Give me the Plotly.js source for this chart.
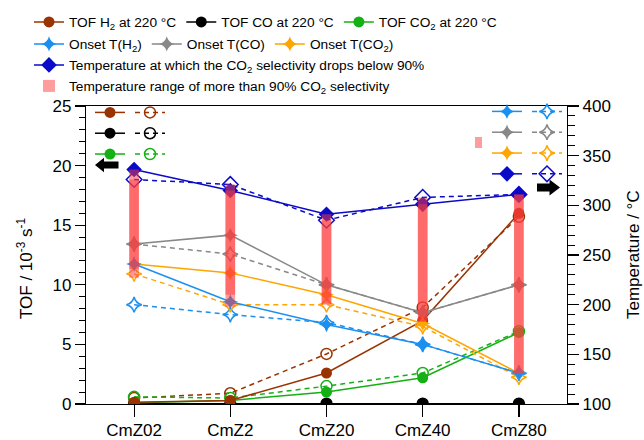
<!DOCTYPE html>
<html>
<head>
<meta charset="utf-8">
<script src="https://cdn.plot.ly/plotly-3.0.1.min.js"></script>
<style>
  html, body { margin: 0; padding: 0; background: #fff; }
  #chart { width: 644px; height: 440px; }
</style>
</head>
<body>
<div id="chart"></div>
<script>
// Catalysts on the shared category axis
const categories = ['CmZ02', 'CmZ2', 'CmZ20', 'CmZ40', 'CmZ80'];

// Turnover frequencies at 220 °C, 10^-3 s^-1 (filled = first run, open = second run)
const tofH2   = [0.15, 0.3, 2.6, 7.0, 16.0];
const tofH2b  = [0.5, 0.9, 4.2, 8.1, 15.7];
const tofCO   = [0.02, 0.02, 0.02, 0.02, 0.02];
const tofCOb  = [0.03, 0.03, 0.03, 0.03, 0.03];
const tofCO2  = [0.1, 0.3, 1.0, 2.2, 6.0];
const tofCO2b = [0.6, 0.5, 1.5, 2.6, 6.1];

// Onset temperatures, °C
const onsetH2   = [241, 203, 180, 160, 131];
const onsetH2b  = [200, 190, 182, 160, 131];
const onsetCO   = [261, 270, 220, 192, 220];
const onsetCOb  = [261, 251, 220, 192, 220];
const onsetCO2  = [241, 232, 210, 181, 131];
const onsetCO2b = [231, 200, 200, 178, 127];

// Temperature at which the CO2 selectivity drops below 90 %, °C
const tDrop  = [336, 315, 291, 301, 311];
const tDropB = [326, 321, 285, 308, 311];

// Lower end of the >90 % CO2 selectivity window, °C
const selLow  = [236, 210, 201, 183, 131];
const selLowB = [227, 198, 200, 183, 131];

// Legend and axis labels
const labelsTOF   = ['TOF H<sub>2</sub> at 220 °C', 'TOF CO at 220 °C', 'TOF CO<sub>2</sub> at 220 °C'];
const labelsOnset = ['Onset T(H<sub>2</sub>)', 'Onset T(CO)', 'Onset T(CO<sub>2</sub>)'];
const labelDrop   = 'Temperature at which the CO<sub>2</sub> selectivity drops below 90%';
const labelRange  = 'Temperature range of more than 90% CO<sub>2</sub> selectivity';
const titleLeft   = 'TOF / 10<sup>-3</sup> s<sup>-1</sup>';
const titleRight  = 'Temperature / °C';

// ---- styling ----
const FONT = 'Liberation Sans, Arial, sans-serif';
const C = {
  h2: '#993300', co: '#000000', co2: '#14b014',
  onH2: '#1b8ff0', onCO: '#888888', onCO2: '#ffa500',
  drop: '#0a0ac8', range: 'rgb(255,60,60)'
};
const LW = 1.5;
const DASH = '5px,4px';

const W = 644, H = 440;
const M = { l: 86, r: 77, t: 106, b: 36 };
const PW = W - M.l - M.r, PH = H - M.t - M.b;
const px = x => (x - M.l) / PW;       // pixel column -> paper x
const py = y => (H - M.b - y) / PH;   // pixel row -> paper y

function series(x, y, color, symbol, size, opts) {
  const open = symbol.endsWith('-open');
  return Object.assign({
    type: 'scatter', mode: 'lines+markers', x: x, y: y,
    line: { color: color, width: LW, dash: open ? DASH : 'solid' },
    marker: { color: color, symbol: symbol, size: size,
              line: { color: color, width: open ? 1.5 : 0 } },
    hoverinfo: 'x+y+name'
  }, opts);
}
// key-only entry (no visible point) for the small symbol insets
function key(color, symbol, size, legend) {
  return series([categories[0]], [null], color, symbol, size, { name: '', legend: legend, yaxis: 'y', hoverinfo: 'skip' });
}

const STAR = 11;
const traces = [
  // second-run TOF (dashed, open)
  series(categories, tofH2b,  C.h2,  'circle-open', 11, { name: '', legend: 'legend6' }),
  series(categories, tofCOb,  C.co,  'circle-open', 11, { name: '', legend: 'legend6' }),
  series(categories, tofCO2b, C.co2, 'circle-open', 11, { name: '', legend: 'legend6' }),
  // first-run TOF
  series(categories, tofCO,  C.co,  'circle', 11, { name: labelsTOF[1], legend: 'legend', legendrank: 2 }),
  series(categories, tofCO2, C.co2, 'circle', 11, { name: labelsTOF[2], legend: 'legend', legendrank: 3 }),
  series(categories, tofH2,  C.h2,  'circle', 11, { name: labelsTOF[0], legend: 'legend', legendrank: 1 }),

  // second-run temperatures (dashed, open)
  series(categories, onsetH2b,  C.onH2,  'star-diamond-open', STAR, { name: '', yaxis: 'y2', legend: 'legend8' }),
  series(categories, onsetCOb,  C.onCO,  'star-diamond-open', STAR, { name: '', yaxis: 'y2', legend: 'legend8' }),
  series(categories, onsetCO2b, C.onCO2, 'star-diamond-open', STAR, { name: '', yaxis: 'y2', legend: 'legend8' }),
  series(categories, tDropB,    C.drop,  'diamond-open', 12, { name: '', yaxis: 'y2', legend: 'legend8' }),
  // first-run temperatures
  series(categories, onsetCO,  C.onCO,  'star-diamond', STAR, { name: labelsOnset[1], yaxis: 'y2', legend: 'legend2', legendrank: 2 }),
  series(categories, onsetCO2, C.onCO2, 'star-diamond', STAR, { name: labelsOnset[2], yaxis: 'y2', legend: 'legend2', legendrank: 3 }),
  series(categories, onsetH2,  C.onH2,  'star-diamond', STAR, { name: labelsOnset[0], yaxis: 'y2', legend: 'legend2', legendrank: 1 }),
  series(categories, tDrop,    C.drop,  'diamond', 12, { name: labelDrop, yaxis: 'y2', legend: 'legend3' }),

  // selectivity windows, semi-transparent, drawn above everything
  { type: 'bar', x: categories, base: selLow, y: tDrop.map((t, i) => t - selLow[i]),
    width: 0.1, yaxis: 'y3', opacity: 0.5, name: labelRange, legend: 'legend4',
    marker: { color: C.range, line: { width: 0 } }, hoverinfo: 'skip' },
  { type: 'bar', x: categories, base: selLowB, y: tDropB.map((t, i) => t - selLowB[i]),
    width: 0.1, yaxis: 'y3', opacity: 0.5, name: labelRange, showlegend: false,
    marker: { color: C.range, line: { width: 0 } }, hoverinfo: 'skip' },

  // filled keys of the insets
  key(C.h2, 'circle', 11, 'legend5'),
  key(C.co, 'circle', 11, 'legend5'),
  key(C.co2, 'circle', 11, 'legend5'),
  key(C.onH2, 'star-diamond', STAR, 'legend7'),
  key(C.onCO, 'star-diamond', STAR, 'legend7'),
  key(C.onCO2, 'star-diamond', STAR, 'legend7'),
  key(C.drop, 'diamond', 12, 'legend7')
];

const legBase = {
  bgcolor: 'rgba(0,0,0,0)', borderwidth: 0,
  font: { family: FONT, size: 13.7, color: '#000' },
  xref: 'container', yref: 'container', xanchor: 'left', yanchor: 'top',
  itemclick: false, itemdoubleclick: false, traceorder: 'normal'
};
const legAt = (x, y, orient) => Object.assign({}, legBase, { x: x / W, y: 1 - y / H, orientation: orient });

const axisFont = { family: FONT, size: 17, color: '#000' };
const axisLine = { showline: true, linecolor: '#000', linewidth: 1.2, showgrid: false, zeroline: false,
                   ticks: 'outside', tickcolor: '#000', tickwidth: 1.2, tickfont: axisFont };

// block arrows pointing at each axis, and the window swatch in the right inset
function poly(pts) {
  return 'M' + pts.map(p => px(p[0]).toFixed(5) + ',' + py(p[1]).toFixed(5)).join('L') + 'Z';
}
const shapes = [
  { type: 'path', xref: 'paper', yref: 'paper', fillcolor: '#000', line: { width: 0 },
    path: poly([[95,165],[104,157.8],[104,161.6],[118.5,161.6],[118.5,168.4],[104,168.4],[104,172.2]]) },
  { type: 'path', xref: 'paper', yref: 'paper', fillcolor: '#000', line: { width: 0 },
    path: poly([[560,187.5],[549.5,179.5],[549.5,183.6],[537,183.6],[537,191.4],[549.5,191.4],[549.5,195.5]]) },
  { type: 'rect', xref: 'paper', yref: 'paper', fillcolor: C.range, opacity: 0.5, line: { width: 0 },
    x0: px(475), x1: px(482), y0: py(148), y1: py(137) }
];

// axis titles, rotated to read bottom-to-top
const annotations = [
  { text: titleLeft, xref: 'paper', yref: 'paper', x: px(25), y: py(268), xanchor: 'center', yanchor: 'middle',
    textangle: -90, showarrow: false, font: axisFont },
  { text: titleRight, xref: 'paper', yref: 'paper', x: px(633), y: py(255), xanchor: 'center', yanchor: 'middle',
    textangle: -90, showarrow: false, font: axisFont }
];

const layout = {
  width: W, height: H,
  margin: { l: M.l, r: M.r, t: M.t, b: M.b, autoexpand: false },
  paper_bgcolor: '#fff', plot_bgcolor: '#fff',
  font: { family: FONT, color: '#000' },
  showlegend: true,
  barmode: 'overlay',
  xaxis: Object.assign({}, axisLine, {
    type: 'category', categoryorder: 'array', categoryarray: categories,
    range: [-0.5, 4.5], mirror: true, ticklen: 12, ticklabelstandoff: -2
  }),
  yaxis: Object.assign({}, axisLine, {
    range: [0, 25], tick0: 0, dtick: 5, ticklen: 10,
    minor: { dtick: 1, ticks: 'outside', ticklen: 6, tickwidth: 1, tickcolor: '#000', showgrid: false }
  }),
  yaxis2: Object.assign({}, axisLine, {
    overlaying: 'y', side: 'right', range: [100, 400], tick0: 100, dtick: 50, ticklen: 11,
    minor: { dtick: 10, ticks: 'outside', ticklen: 7, tickwidth: 1, tickcolor: '#000', showgrid: false }
  }),
  yaxis3: { overlaying: 'y', range: [100, 400], visible: false, fixedrange: true },
  legend:  legAt(29, 6.5, 'h'),
  legend2: legAt(29, 28.5, 'h'),
  legend3: legAt(29, 49.5, 'h'),
  legend4: legAt(29, 70.5, 'h'),
  legend5: legAt(90, 97, 'v'),
  legend6: legAt(130, 97, 'v'),
  legend7: legAt(487, 96, 'v'),
  legend8: legAt(527, 96, 'v'),
  shapes: shapes,
  annotations: annotations
};

Plotly.newPlot('chart', traces, layout, { displayModeBar: false, staticPlot: true });
</script>
</body>
</html>
